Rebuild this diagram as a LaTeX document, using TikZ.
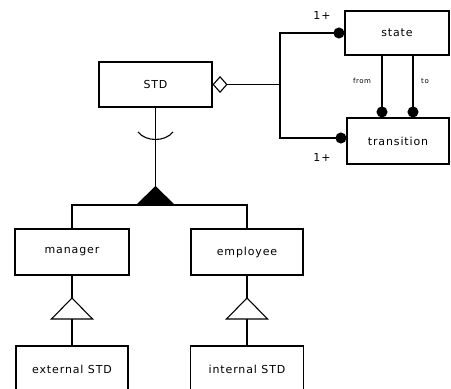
\documentclass[tikz,border=0pt]{standalone}
\usepackage{fontspec}
\setmainfont{DejaVu Sans}[LetterSpace=8]
\usetikzlibrary{arrows.meta}

\begin{document}
\begin{tikzpicture}[x=1pt,y=-1pt,line width=1.1pt,
		entity/.style={draw,rectangle,minimum height=45pt,inner sep=0pt,font=\fontsize{11}{13}\selectfont},
		dot/.style={-{Circle[length=11pt]}},
		tag/.style={font=\fontsize{11}{13}\selectfont},
		role/.style={font=\fontsize{7}{8}\selectfont}]
	\useasboundingbox (0,0) rectangle (451,389);

	% classes
	\node (std) at (155.5,84.5) [entity,minimum width=113pt] {STD};
	\node (state) at (397,33) [entity,minimum width=104pt,minimum height=44pt] {state};
	\node (trans) at (398,141) [entity,minimum width=102pt,minimum height=46pt] {transition};
	\node (manager) at (72,252) [entity,minimum width=114pt,minimum height=46pt] {manager};
	\node (employee) at (247,252) [entity,minimum width=112pt,minimum height=46pt] {employee};
	\node (external) at (72,369) [entity,minimum width=112pt,minimum height=46pt] {external STD};
	\node (internal) at (247,369) [entity,minimum width=113pt,minimum height=46pt] {internal STD};

	% aggregation
	\coordinate (agg) at (280,84.5);
	\draw[{Diamond[open,length=15pt,width=17pt]}-] (std.east) -- (agg);
	\draw[dot] (agg) |- (state.west);
	\draw[dot] (agg) |- ([yshift=3pt]trans.west);
	\node (m1) at (322,15) [tag] {1+};
	\node (m2) at (322,157) [tag] {1+};

	% from / to
	\draw[dot] ([xshift=-15pt]state.south) -- ([xshift=-15pt]state.south |- trans.north);
	\draw[dot] ([xshift=16pt]state.south) -- ([xshift=16pt]state.south |- trans.north);
	\node (from) at (362,81) [role] {from};
	\node (to) at (425,81) [role] {to};

	% generalisation of STD
	\coordinate (gen) at (155.5,186);
	\coordinate (genb) at (155.5,205);
	\draw (std.south) -- (gen);
	\draw (138,132) .. controls (146,142) and (165,142) .. (173,132);
	\fill (gen) -- ++(-19.5,19) -- ++(39,0) -- cycle;
	\draw (manager.north) |- (genb) -| (employee.north);

	% subclasses
	\coordinate (sub1) at (72,298);
	\coordinate (sub2) at (247,298);
	\draw (manager.south) -- (sub1);
	\draw (sub1) -- ++(-20.5,21) -- ++(41,0) -- cycle;
	\draw ([yshift=-21pt]sub1) -- (external.north);
	\draw (employee.south) -- (sub2);
	\draw (sub2) -- ++(-20.5,21) -- ++(41,0) -- cycle;
	\draw ([yshift=-21pt]sub2) -- (internal.north);
\end{tikzpicture}
\end{document}
